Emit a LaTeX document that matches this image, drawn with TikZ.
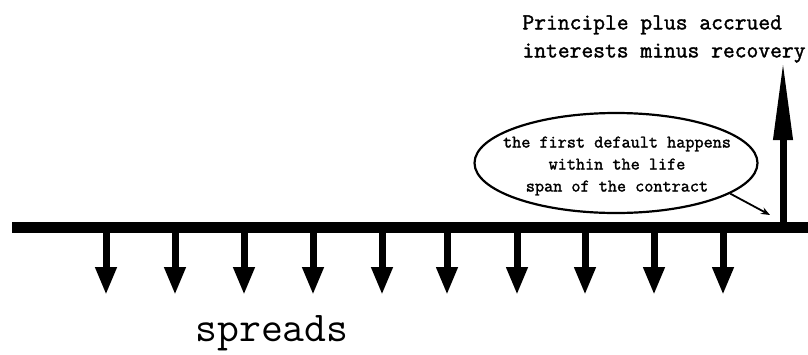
\documentclass[tikz,border=0pt]{standalone}
\usepackage{fontspec}
\usetikzlibrary{arrows.meta,shapes.geometric}
\newfontfamily\heavyfont{Latin Modern Mono}[FakeBold=1.6]
\tikzset{
  timeline/.style={line width=11pt},
  payment/.style={line width=7pt,-{Triangle[length=28pt,width=20pt]}},
  payoff/.style={line width=7pt,-{Triangle[length=80pt,width=18pt]}},
  pointer/.style={line width=1.8pt,-{Stealth[length=9pt,width=7pt]}},
}
\begin{document}
\begin{tikzpicture}[x=1pt,y=-1pt]
\useasboundingbox (0,0) rectangle (808,354);
\coordinate (T0) at (12,227);
\coordinate (T1) at (808,227);
\coordinate (D) at (783,225);
\coordinate (P) at (783,60);
\coordinate (H) at (770,215);
\node[font=\heavyfont\fontsize{22.9}{28}\selectfont,align=left,inner sep=0pt] (top) at (664,39) {Principle plus accrued\\interests minus recovery};
\node[draw,ellipse,line width=2.2pt,minimum width=283pt,minimum height=100pt] (bubble) at (616,163) {};
\node[font=\heavyfont\fontsize{17.7}{22}\selectfont,align=center,inner sep=0pt] (note) at (617,166) {the first default happens\\within the life\\span of the contract};
\node[font=\ttfamily\fontsize{42.5}{44}\selectfont,inner sep=0pt] (spreads) at (272,333) {spreads};
\draw[timeline] (T0) -- (T1);
\foreach \x [count=\i] in {106,175,244,313,382,447,517,585,654,723}{
  \coordinate (S\i) at (\x,227);
  \coordinate (E\i) at (\x,295);
  \draw[payment] (S\i) -- (E\i);
}
\draw[payoff] (D) -- (P);
\draw[pointer] (bubble.-15) -- (H);
\end{tikzpicture}
\end{document}
